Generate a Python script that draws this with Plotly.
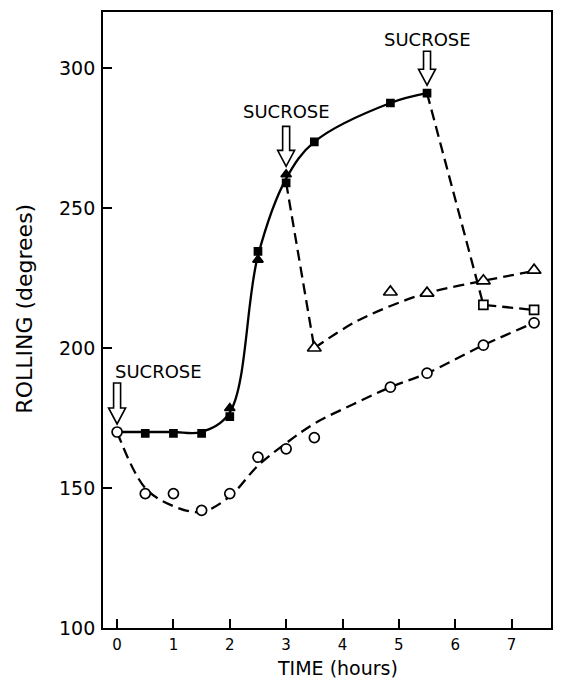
import plotly.graph_objects as go

# ---- data ----
# control (open circles)
circle_x = [0, 0.5, 1, 1.5, 2, 2.5, 3, 3.5, 4.85, 5.5, 6.5, 7.4]
circle_y = [170, 148, 148, 142, 148, 161, 164, 168, 186, 191, 201, 209]
circle_fit_x = [0, 0.5, 1.0, 1.5, 2, 2.5, 3, 3.5, 4.2, 4.85, 5.5, 6.5, 7.4]
circle_fit_y = [170, 150, 143.5, 141.5, 147, 158, 166, 173, 180, 186, 191, 201, 209]

# sucrose at 0 h (filled squares / filled triangles, solid curve)
fsq_x = [0.5, 1, 1.5, 2, 2.5, 3, 3.5, 4.85, 5.5]
fsq_y = [169.5, 169.5, 169.5, 175.5, 234.5, 259, 273.6, 287.5, 291]
ftri_x = [2, 2.5, 3]
ftri_y = [178.5, 231.5, 262]
main_fit_x = [0, 0.5, 1, 1.5, 2, 2.5, 3, 3.5, 4.85, 5.5]
main_fit_y = [170, 170, 170, 170, 177, 233, 260.5, 273.6, 287.5, 291]

# second sucrose at 3 h (open triangles)
otri_x = [3.5, 4.85, 5.5, 6.5, 7.4]
otri_y = [200, 220, 219.6, 224, 227.8]
drop1_x = [3, 3.5]
drop1_y = [259, 200]
otri_fit_x = [3.5, 4.2, 4.85, 5.5, 6.5, 7.4]
otri_fit_y = [200, 209, 215, 219.6, 224, 227.5]

# second sucrose at 5.5 h (open squares)
osq_x = [6.5, 7.4]
osq_y = [215.4, 213.6]
drop2_x = [5.5, 6.5, 7.4]
drop2_y = [291, 215.4, 213.6]

# sucrose additions
sucrose_x = [0, 3, 5.5]
sucrose_y = [170, 262, 291]
sucrose_text = ["SUCROSE", "SUCROSE", "SUCROSE"]

FONT = "DejaVu Sans"
DASH = "11px,6px"

fig = go.Figure()

def line(x, y, dash="solid", shape="linear"):
    fig.add_trace(go.Scatter(x=x, y=y, mode="lines",
                             line=dict(color="black", width=2.3, dash=dash,
                                       shape=shape, smoothing=1.0),
                             showlegend=False, hoverinfo="skip"))

line(circle_fit_x, circle_fit_y, DASH, "spline")
line(main_fit_x, main_fit_y, "solid", "spline")
line(drop1_x, drop1_y, DASH)
line(otri_fit_x, otri_fit_y, DASH, "spline")
line(drop2_x, drop2_y, DASH)

def markers(x, y, symbol, size, filled):
    fig.add_trace(go.Scatter(
        x=x, y=y, mode="markers",
        marker=dict(symbol=symbol, size=size,
                    color="black" if filled else "white",
                    line=dict(color="black", width=1.7)),
        showlegend=False, hoverinfo="skip"))

markers(circle_x, circle_y, "circle", 10, False)
markers(ftri_x, ftri_y, "triangle-up", 9, True)
markers(fsq_x, fsq_y, "square", 7, True)
markers(otri_x, otri_y, "triangle-up", 12, False)
markers(osq_x, osq_y, "square", 9, False)

# open block arrows + labels
shaft_len = [25, 24, 18]
label_shift = [61, 63, 54]
label_anchor = ["left", "center", "center"]
label_xshift = [-4, 0, 0]
gap = 8
head_len = 16
for i in range(len(sucrose_x)):
    t = gap
    hb = gap + head_len
    top = hb + shaft_len[i]
    path = (f"M 0 {t} L -8.5 {hb} L -3.5 {hb} L -3.5 {top} "
            f"L 3.5 {top} L 3.5 {hb} L 8.5 {hb} Z")
    fig.add_shape(type="path", xref="x", yref="y",
                  xsizemode="pixel", ysizemode="pixel",
                  xanchor=sucrose_x[i], yanchor=sucrose_y[i],
                  path=path, fillcolor="white",
                  line=dict(color="black", width=1.6), layer="above")
    fig.add_annotation(x=sucrose_x[i], y=sucrose_y[i], text=sucrose_text[i],
                       showarrow=False, xanchor=label_anchor[i],
                       yanchor="middle", xshift=label_xshift[i],
                       yshift=label_shift[i],
                       font=dict(family=FONT, size=18, color="black"))

# axis titles
fig.add_annotation(xref="paper", yref="paper", x=0.523, y=-0.0838,
                   text="TIME (hours)", showarrow=False,
                   xanchor="center", yanchor="bottom", borderpad=0,
                   font=dict(family=FONT, size=19, color="black"))
fig.add_annotation(xref="paper", yref="paper", x=-0.1756, y=0.519,
                   text="ROLLING (degrees)", textangle=-90, showarrow=False,
                   xanchor="center", yanchor="middle",
                   font=dict(family=FONT, size=22, color="black"))

axis_common = dict(showgrid=False, zeroline=False, showline=True,
                   linecolor="black", linewidth=1.8, mirror=True,
                   ticks="inside", ticklen=9, tickwidth=1.8,
                   tickcolor="black")
fig.update_xaxes(range=[-0.25, 7.7], tickvals=list(range(8)),
                 tickfont=dict(family=FONT, size=15, color="black"),
                 ticklabelstandoff=2, **axis_common)
fig.update_yaxes(range=[100, 320], tickvals=[100, 150, 200, 250, 300],
                 tickfont=dict(family=FONT, size=19, color="black"),
                 ticklabelstandoff=2, **axis_common)

fig.update_layout(width=563, height=680,
                  margin=dict(l=103, r=10, t=10, b=52),
                  paper_bgcolor="white", plot_bgcolor="white",
                  showlegend=False)

fig.write_html("out.html")
